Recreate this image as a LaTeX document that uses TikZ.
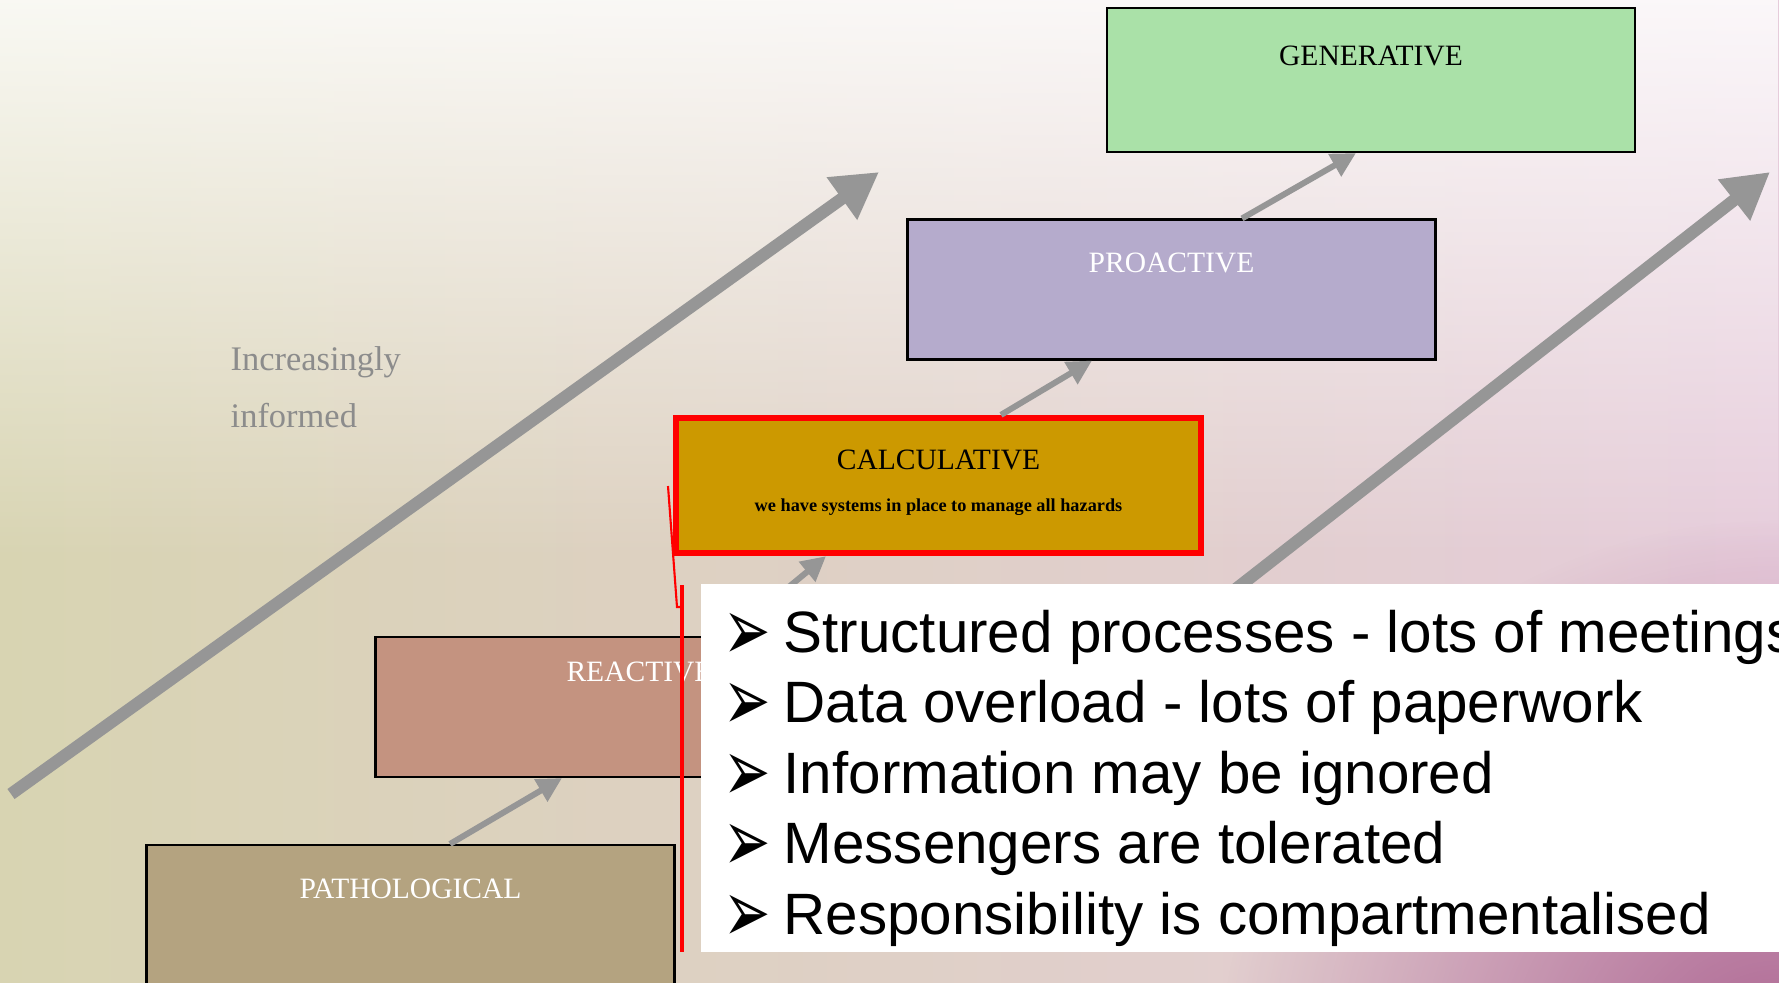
\documentclass[tikz,border=0pt]{standalone}
\usepackage{fontspec}
\setmainfont{Liberation Serif}
\newfontfamily\itemfont{Liberation Sans}
\newfontfamily\symfont{DejaVu Sans}
\usetikzlibrary{arrows.meta,positioning,fadings}

\definecolor{bgkhaki}{RGB}{216,212,178}
\definecolor{bgpink}{RGB}{230,204,219}
\definecolor{bgplum}{RGB}{165,88,135}
\definecolor{arrowgray}{RGB}{150,150,150}
\definecolor{genfill}{RGB}{170,225,168}
\definecolor{profill}{RGB}{181,171,204}
\definecolor{calcfill}{RGB}{204,153,0}
\definecolor{reacfill}{RGB}{196,147,128}
\definecolor{patfill}{RGB}{180,163,128}
\definecolor{infogray}{RGB}{140,140,140}

\tikzfading[name=softdisc, inner color=transparent!0, outer color=transparent!100]

\begin{document}
\begin{tikzpicture}[x=0.1mm, y=-0.1mm,
    stage/.style={draw=black, line width=0.6pt, rectangle, minimum width=52.8mm, minimum height=14mm, inner sep=0pt},
    stagelbl/.style={inner sep=0pt, font=\fontsize{8.4}{10}\selectfont},
    climb/.style={draw=arrowgray, line width=1.7pt, -{Triangle[length=7pt,width=7pt]}},
    trend/.style={draw=arrowgray, line width=3.5pt, -{Triangle[length=13pt,width=14pt]}},
    item/.style={anchor=base west, inner sep=0pt, font=\itemfont\fontsize{16.6}{20}\selectfont}]
  \useasboundingbox (0,0) rectangle (1779,982);
  \clip (0,0) rectangle (1779,982);

  % Background
  \shade[left color=bgkhaki, right color=bgpink] (0,0) rectangle (1779,982);
  \fill[white, path fading=south, fill opacity=0.85] (0,0) rectangle (1779,560);
  \fill[bgplum, path fading=softdisc, fill opacity=0.9] (1779,1080) circle (560);

  % Trend arrows
  \coordinate (lowtail) at (11,794);
  \coordinate (lowtip) at (879,172);
  \coordinate (hightail) at (1150,656);
  \coordinate (hightip) at (1770,172);
  \draw[trend] (lowtail) -- (lowtip);
  \draw[trend] (hightail) -- (hightip);
  \node[anchor=north west, align=left, inner sep=0pt, text=infogray, font=\fontsize{9.8}{16.2}\selectfont] (informed) at (230,346) {Increasingly\\informed};

  % Nodes
  \node[stage, fill=genfill, minimum height=14.4mm] (gen) at (1371,80) {};
  \node[stage, fill=profill] (pro) at (1171.5,289.5) {};
  \node[stage, fill=calcfill, draw=red, line width=1.8pt, minimum width=52.5mm, minimum height=13.5mm] (calc) at (938.5,485.5) {};
  \node[stage, fill=reacfill] (reac) at (639.5,707) {};
  \node[stage, fill=patfill] (pat) at (410.5,915) {};

  \node[stagelbl, below=3.8mm of gen.north] (genlbl) {GENERATIVE};
  \node[stagelbl, text=white, below=3.35mm of pro.north] (prolbl) {PROACTIVE};
  \node[stagelbl, below=3.45mm of calc.north] (calclbl) {CALCULATIVE};
  \node[inner sep=0pt, font=\bfseries\fontsize{5.2}{6}\selectfont, below=2.75mm of calclbl] (calcsub) {we have systems in place to manage all hazards};
  \node[stagelbl, text=white, below=2.5mm of reac.north] (reaclbl) {REACTIVE};
  \node[stagelbl, text=white, below=3.4mm of pat.north] (patlbl) {PATHOLOGICAL};

  % Arrows
  \draw[climb] ([xshift=3.95mm]pat.north) -- ([xshift=-7.75mm]reac.south);
  \draw[climb] ([xshift=9mm]reac.north) -- ([xshift=-11.25mm]calc.south);
  \draw[climb] ([xshift=6.25mm]calc.north) -- ([xshift=-7.95mm]pro.south);
  \draw[climb] ([xshift=7.05mm]pro.north) -- ([xshift=-1.5mm]gen.south);

  % Callout panel
  \node[fill=white, inner sep=0pt, minimum width=107.9mm, minimum height=36.8mm, anchor=north west] (panel) at (700,583) {};
  \coordinate (tagtop) at (668,486);
  \coordinate (tagfoot) at (677,607);
  \coordinate (tagjoin) at (682,607);
  \draw[red, line width=0.6pt] (tagtop) -- (tagfoot) -- (tagjoin);
  \draw[red, line width=1pt] ([xshift=-1.8mm,yshift=-0.2mm]panel.north west) -- ([xshift=-1.8mm]panel.south west);

  \foreach \txt [count=\i from 0] in {Structured processes - lots of meetings, Data overload - lots of paperwork, Information may be ignored, Messengers are tolerated, Responsibility is compartmentalised}
    \node[item] (item\i) at (723,652+70.5*\i) {\makebox[6mm][l]{\raisebox{-2.4pt}{\symfont\fontsize{14}{14}\selectfont\scalebox{1.15}[1.8]{➢}}}\txt};
\end{tikzpicture}
\end{document}
